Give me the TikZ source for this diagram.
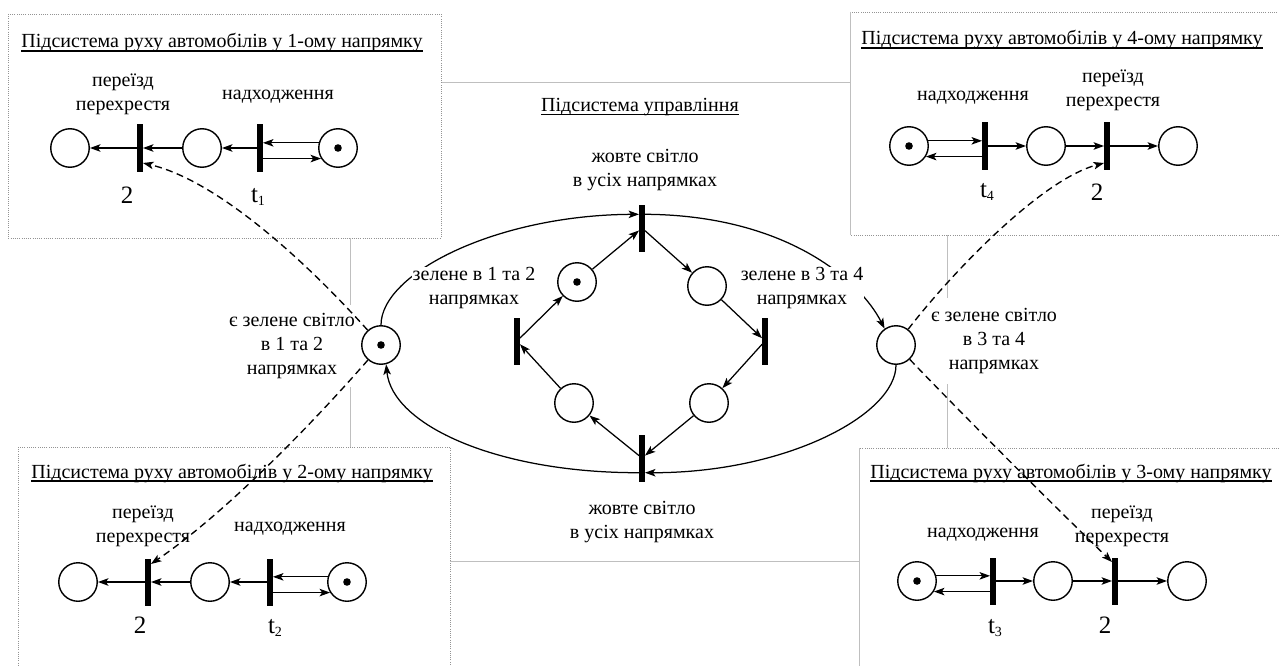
\documentclass[tikz,border=0pt]{standalone}
\usepackage{fontspec}
\setmainfont{Liberation Serif}
\usetikzlibrary{arrows.meta,calc}
\begin{document}
\begin{tikzpicture}[x=1pt,y=-1pt,
  place/.style={circle,draw,line width=1.4pt,minimum size=38.5pt,inner sep=0pt},
  marked/.style={place,path picture={\fill (path picture bounding box.center) circle (3.8pt);}},
  trans/.style={fill=black,draw=none,minimum width=5.5pt,minimum height=47pt,inner sep=0pt},
  flow/.style={line width=1.25pt,-{Stealth[length=10.5pt,width=7.5pt,inset=2.5pt]}},
  dlink/.style={flow,line width=1.35pt,dash pattern=on 7pt off 4.5pt},
  lbl/.style={font=\fontsize{20}{24}\selectfont,align=center,inner sep=1pt},
  num/.style={font=\fontsize{25}{28}\selectfont,inner sep=0pt},
  ttl/.style={font=\fontsize{20}{23}\selectfont,inner sep=0pt},
  grayframe/.style={draw=gray!50,line width=1pt},
  subbox/.style={draw=gray!85,line width=0.8pt,dash pattern=on 0.8pt off 1.4pt,fill=white},
]
\useasboundingbox (0,0) rectangle (1279,666);

% frame of the control subsystem
\draw[grayframe] (350,83) rectangle (947,561);

% four traffic subsystems
\draw[subbox] (8,14) rectangle (441,238);
\draw[subbox] (850,12) rectangle (1285,235);
\draw[subbox] (18,447) rectangle (450,672);
\draw[subbox] (859,448) rectangle (1285,672);
\draw[grayframe] (850,12) -- (850,235);
\draw[grayframe] (859,448) -- (859,666);

% titles
\newcommand{\uline}[1]{\draw[line width=1.2pt] ([yshift=-3pt]#1.base west) -- ([yshift=-3pt]#1.base east);}
\node[ttl] (hA) at (222,43) {Підсистема руху автомобілів у 1-ому напрямку};
\node[ttl] (hD) at (1062,40) {Підсистема руху автомобілів у 4-ому напрямку};
\node[ttl] (hB) at (232,473) {Підсистема руху автомобілів у 2-ому напрямку};
\node[ttl] (hC) at (1071,473) {Підсистема руху автомобілів у 3-ому напрямку};
\node[ttl] (hM) at (640,107) {Підсистема управління};
\uline{hA}\uline{hD}\uline{hB}\uline{hC}\uline{hM}

% control subsystem: places and transitions
\node[trans] (tt) at (642,228) {};
\node[trans] (bt) at (642,458) {};
\node[trans] (lt) at (517,341) {};
\node[trans] (rt) at (765,341) {};
\node[marked] (tlp) at (577,282) {};
\node[place] (trp) at (707,286) {};
\node[place] (blp) at (574,403) {};
\node[place] (brp) at (709,403) {};
\node[marked] (lbig) at (381,345) {};
\node[place] (rbig) at (896,345) {};

% outer cycle
\draw[flow] (lbig) .. controls (381,273) and (497,215) .. ([yshift=-10pt]tt.north west);
\draw[flow] ([yshift=-10pt]tt.north east) .. controls (785,215) and (860,280) .. (rbig.125);
\draw[flow] (rbig) .. controls (896,415) and (785,473) .. ([yshift=9pt]bt.south east);
\draw[flow] ([yshift=9pt]bt.south west) .. controls (497,473) and (392,425) .. (lbig.-75);

% inner cycle
\draw[flow] (lt) -- (tlp);
\draw[flow] (tlp) -- (tt);
\draw[flow] (tt) -- (trp);
\draw[flow] (trp) -- (rt);
\draw[flow] (rt) -- (brp);
\draw[flow] (brp) -- (bt);
\draw[flow] (bt) -- (blp);
\draw[flow] (blp) -- (lt);

% labels of the control subsystem
\node[lbl] (ytop) at (645,170) {\fontsize{20}{26}\selectfont жовте світло\\в усіх напрямках};
\node[lbl] (ybot) at (642,522.5) {\fontsize{20}{25}\selectfont жовте світло\\в усіх напрямках};
\node[lbl,fill=white] (g12) at (474,288.5) {зелене в 1 та 2\\напрямках};
\node[lbl,fill=white] (g34) at (802,288.5) {зелене в 3 та 4\\напрямках};
\node[lbl,fill=white,inner ysep=8pt] (gl) at (292,346) {є зелене світло\\в 1 та 2\\напрямках};
\node[lbl,fill=white,inner ysep=10pt] (gr) at (994,341) {є зелене світло\\в 3 та 4\\напрямках};

% subsystem 1
\node[place] (pA1) at (70,148) {};
\node[trans] (bA2) at (140,148) {};
\node[place] (pA2) at (202,148) {};
\node[trans] (bA1) at (260,148) {};
\node[marked] (pA3) at (338,148) {};
\draw[flow] (pA3.165) -- (pA3.165 -| bA1.east);
\draw[flow] (pA3.212 -| bA1.east) -- (pA3.212);
\draw[flow] (bA1) -- (pA2);
\draw[flow] (pA2) -- (bA2);
\draw[flow] (bA2) -- (pA1);
\node[lbl] (xA) at (123,94.5) {\fontsize{20}{25}\selectfont переїзд\\перехрестя};
\node[lbl] (nA) at (278,97) {надходження};
\node[num] (kA) at (127,195) {2};
\node[num] (tA) at (258,197) {t{\fontsize{14}{14}\selectfont\raisebox{-3pt}{1}}};

% subsystem 4
\node[marked] (pD1) at (909,146) {};
\node[trans] (bD1) at (985,146) {};
\node[place] (pD2) at (1046,146) {};
\node[trans] (bD2) at (1107,146) {};
\node[place] (pD3) at (1178,146) {};
\draw[flow] (pD1.15) -- (pD1.15 -| bD1.west);
\draw[flow] (pD1.-32 -| bD1.west) -- (pD1.-32);
\draw[flow] (bD1) -- (pD2);
\draw[flow] (pD2) -- (bD2);
\draw[flow] (bD2) -- (pD3);
\node[lbl] (nD) at (973,98) {надходження};
\node[lbl] (xD) at (1113,90.5) {\fontsize{20}{25}\selectfont переїзд\\перехрестя};
\node[num] (tD) at (987,192) {t{\fontsize{14}{14}\selectfont\raisebox{-3pt}{4}}};
\node[num] (kD) at (1097,192) {2};

% subsystem 2
\node[place] (pB1) at (78,582) {};
\node[trans] (bB2) at (148,582) {};
\node[place] (pB2) at (210,582) {};
\node[trans] (bB1) at (270,582) {};
\node[marked] (pB3) at (347,582) {};
\draw[flow] (pB3.165) -- (pB3.165 -| bB1.east);
\draw[flow] (pB3.212 -| bB1.east) -- (pB3.212);
\draw[flow] (bB1) -- (pB2);
\draw[flow] (pB2) -- (bB2);
\draw[flow] (bB2) -- (pB1);
\node[lbl] (xB) at (143,526.5) {\fontsize{20}{25}\selectfont переїзд\\перехрестя};
\node[lbl] (nB) at (290,529) {надходження};
\node[num] (kB) at (140,625) {2};
\node[num] (tB) at (275,628) {t{\fontsize{14}{14}\selectfont\raisebox{-3pt}{2}}};

% subsystem 3
\node[marked] (pC1) at (917,581) {};
\node[trans] (bC1) at (993,581) {};
\node[place] (pC2) at (1053,581) {};
\node[trans] (bC2) at (1115,581) {};
\node[place] (pC3) at (1187,581) {};
\draw[flow] (pC1.15) -- (pC1.15 -| bC1.west);
\draw[flow] (pC1.-32 -| bC1.west) -- (pC1.-32);
\draw[flow] (bC1) -- (pC2);
\draw[flow] (pC2) -- (bC2);
\draw[flow] (bC2) -- (pC3);
\node[lbl] (nC) at (983,535) {надходження};
\node[lbl] (xC) at (1122,526.5) {\fontsize{20}{25}\selectfont переїзд\\перехрестя};
\node[num] (tC) at (995,628) {t{\fontsize{14}{14}\selectfont\raisebox{-3pt}{3}}};
\node[num] (kC) at (1105,625) {2};

% green-light places enable the crossing transitions
\draw[dlink] (lbig) .. controls (300,255) and (215,180) .. ([yshift=-15pt]bA2.east);
\draw[dlink] (lbig) .. controls (320,415) and (230,510) .. ([yshift=18pt]bB2.east);
\draw[dlink] (rbig) .. controls (950,275) and (1040,180) .. ([yshift=-17pt]bD2.west);
\draw[dlink] (rbig) .. controls (960,412) and (1050,502) .. ([yshift=19pt]bC2.west);
\end{tikzpicture}
\end{document}
